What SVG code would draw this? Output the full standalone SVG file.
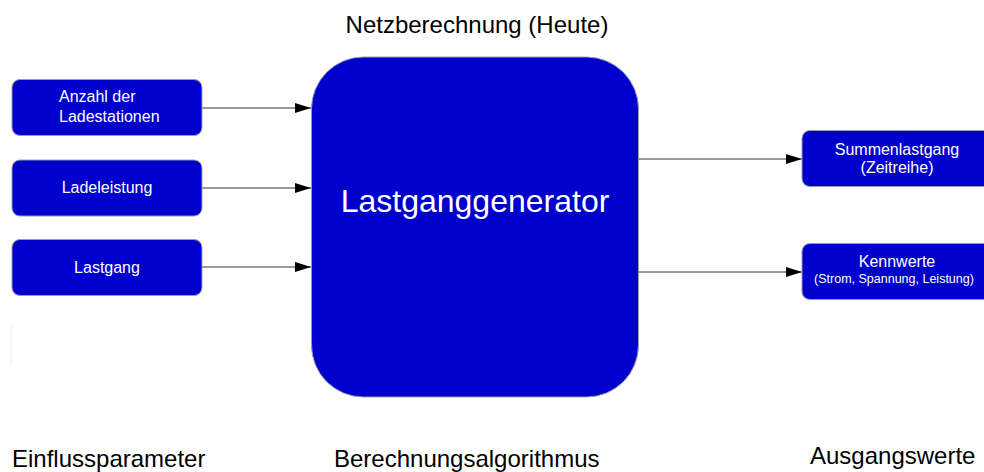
<svg xmlns="http://www.w3.org/2000/svg" width="984" height="472" viewBox="0 0 984 472">
<defs>
<marker id="ah" markerWidth="16" markerHeight="10" refX="16" refY="5" orient="auto" markerUnits="userSpaceOnUse">
<path d="M0,0 L16,5 L0,10 Z" fill="#000"/>
</marker>
<style>
.box{fill:#0000CC;stroke:#9a9ab8;stroke-width:1}
.wt{fill:#fff;font-family:"Liberation Sans",Arial,sans-serif;font-size:16px;text-anchor:middle}
.wl{fill:#fff;font-family:"Liberation Sans",Arial,sans-serif;font-size:16px;text-anchor:start}
.ws{fill:#fff;font-family:"Liberation Sans",Arial,sans-serif;font-size:12.5px;text-anchor:middle}
.lbl{fill:#000;font-family:"Liberation Sans",Arial,sans-serif;font-size:24px}
.conn{stroke:#333;stroke-width:1;fill:none;marker-end:url(#ah)}
</style>
</defs>
<rect width="984" height="472" fill="#fff"/>
<line x1="11" y1="325" x2="11" y2="365" stroke="#f0f0f0" stroke-width="1"/>
<text class="lbl" x="477" y="33" text-anchor="middle">Netzberechnung (Heute)</text>
<g id="connectors">
<line class="conn" x1="202" y1="108" x2="311" y2="108"/>
<line class="conn" x1="202" y1="188" x2="311" y2="188"/>
<line class="conn" x1="202" y1="267" x2="311" y2="267"/>
<line class="conn" x1="639" y1="159" x2="802" y2="159"/>
<line class="conn" x1="639" y1="272" x2="802" y2="272"/>
</g>
<g id="anzahl">
<rect class="box" x="12" y="79.500" width="190" height="56" rx="8"/>
<text class="wl" x="59" y="102">Anzahl der</text>
<text class="wl" x="59" y="122">Ladestationen</text>
</g>
<g id="ladeleistung">
<rect class="box" x="12" y="160" width="190" height="56" rx="8"/>
<text class="wt" x="107" y="193">Ladeleistung</text>
</g>
<g id="lastgang">
<rect class="box" x="12" y="239.500" width="190" height="56" rx="8"/>
<text class="wt" x="107" y="273">Lastgang</text>
</g>
<g id="generator">
<rect class="box" x="311.500" y="57" width="327" height="340" rx="52"/>
<text x="475" y="212" fill="#fff" font-family="'Liberation Sans',Arial,sans-serif" font-size="32" text-anchor="middle">Lastganggenerator</text>
</g>
<g id="summenlastgang">
<rect class="box" x="802" y="130.500" width="190" height="56" rx="8"/>
<text class="wt" x="897" y="155">Summenlastgang</text>
<text class="wt" x="897" y="173">(Zeitreihe)</text>
</g>
<g id="kennwerte">
<rect class="box" x="802" y="243.500" width="190" height="56" rx="8"/>
<text class="wt" x="897" y="267">Kennwerte</text>
<text class="ws" x="894" y="283">(Strom, Spannung, Leistung)</text>
</g>
<text class="lbl" x="12" y="467">Einflussparameter</text>
<text class="lbl" x="334" y="467">Berechnungsalgorithmus</text>
<text class="lbl" x="810" y="464">Ausgangswerte</text>
</svg>
